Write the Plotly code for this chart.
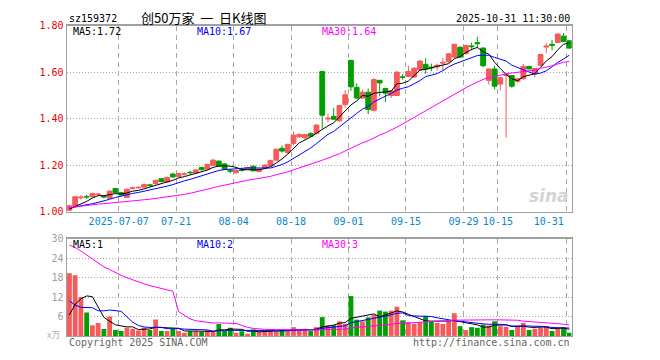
import plotly.graph_objects as go
import pandas as pd

W, H = 660, 360

# ---------------- data ----------------
tick_idx = [9, 19, 29, 39, 49, 59, 69, 75, 87]
tick_labels = ["2025-07-07", "07-21", "08-04", "08-18", "09-01", "09-15", "09-29", "10-15", "10-31"]

open_ = [1.007, 1.023, 1.060, 1.066, 1.065, 1.074, 1.067, 1.058, 1.100, 1.082,
         1.062, 1.101, 1.103, 1.106, 1.116, 1.121, 1.142, 1.128, 1.162, 1.151,
         1.161, 1.170, 1.167, 1.190, 1.183, 1.200, 1.218, 1.206, 1.178, 1.168,
         1.181, 1.183, 1.196, 1.173, 1.187, 1.197, 1.222, 1.273, 1.255, 1.294,
         1.322, 1.318, 1.336, 1.336, 1.603, 1.399, 1.410, 1.391, 1.461, 1.651,
         1.535, 1.489, 1.514, 1.436, 1.565, 1.530, 1.500, 1.500, 1.580, 1.582,
         1.579, 1.610, 1.634, 1.622, 1.623, 1.639, 1.645, 1.665, 1.707, 1.680,
         1.713, 1.727, 1.704, 1.565, 1.614, 1.549, 1.586, 1.586, 1.561, 1.572,
         1.625, 1.593, 1.630, 1.708, 1.720, 1.728, 1.755, 1.735]
high = [1.030, 1.068, 1.072, 1.073, 1.082, 1.081, 1.072, 1.092, 1.103, 1.086,
        1.100, 1.108, 1.109, 1.122, 1.120, 1.138, 1.146, 1.151, 1.168, 1.167,
        1.170, 1.177, 1.183, 1.193, 1.206, 1.228, 1.220, 1.208, 1.184, 1.182,
        1.188, 1.193, 1.199, 1.186, 1.203, 1.223, 1.270, 1.285, 1.292, 1.345,
        1.338, 1.334, 1.343, 1.375, 1.605, 1.422, 1.447, 1.460, 1.523, 1.653,
        1.552, 1.524, 1.530, 1.575, 1.567, 1.533, 1.524, 1.605, 1.592, 1.628,
        1.622, 1.652, 1.660, 1.637, 1.637, 1.662, 1.682, 1.722, 1.712, 1.718,
        1.727, 1.752, 1.706, 1.616, 1.628, 1.580, 1.593, 1.588, 1.575, 1.635,
        1.628, 1.619, 1.678, 1.725, 1.739, 1.767, 1.768, 1.738]
low = [1.003, 1.020, 1.052, 1.055, 1.062, 1.068, 1.058, 1.055, 1.080, 1.070,
       1.060, 1.096, 1.099, 1.104, 1.108, 1.118, 1.126, 1.125, 1.146, 1.148,
       1.155, 1.160, 1.165, 1.178, 1.180, 1.198, 1.194, 1.180, 1.166, 1.165,
       1.172, 1.180, 1.174, 1.170, 1.184, 1.195, 1.220, 1.255, 1.250, 1.285,
       1.318, 1.310, 1.322, 1.333, 1.357, 1.385, 1.394, 1.388, 1.447, 1.520,
       1.484, 1.485, 1.420, 1.432, 1.496, 1.472, 1.489, 1.498, 1.568, 1.578,
       1.575, 1.606, 1.593, 1.604, 1.607, 1.607, 1.640, 1.662, 1.662, 1.676,
       1.694, 1.705, 1.621, 1.547, 1.526, 1.523, 1.319, 1.533, 1.555, 1.568,
       1.612, 1.579, 1.627, 1.683, 1.694, 1.725, 1.730, 1.700]
close = [1.026, 1.065, 1.063, 1.064, 1.079, 1.076, 1.064, 1.089, 1.083, 1.072,
         1.097, 1.103, 1.105, 1.117, 1.113, 1.135, 1.130, 1.148, 1.150, 1.165,
         1.163, 1.168, 1.180, 1.181, 1.204, 1.222, 1.197, 1.183, 1.175, 1.178,
         1.178, 1.190, 1.176, 1.183, 1.201, 1.221, 1.269, 1.261, 1.290, 1.329,
         1.332, 1.332, 1.325, 1.373, 1.415, 1.402, 1.398, 1.457, 1.503, 1.537,
         1.489, 1.514, 1.440, 1.568, 1.554, 1.510, 1.520, 1.600, 1.578, 1.603,
         1.617, 1.648, 1.614, 1.619, 1.630, 1.642, 1.679, 1.720, 1.665, 1.715,
         1.710, 1.723, 1.628, 1.614, 1.540, 1.576, 1.590, 1.540, 1.572, 1.625,
         1.614, 1.616, 1.676, 1.712, 1.716, 1.764, 1.732, 1.704]
volume = [19.3, 18.7, 12.0, 7.2, 3.3, 4.0, 2.1, 6.0, 1.8, 1.5,
          2.5, 2.2, 1.7, 2.5, 1.8, 5.1, 1.5, 1.5, 2.2, 1.5,
          1.0, 1.4, 1.4, 1.2, 1.7, 1.2, 3.7, 1.5, 2.5, 1.0,
          1.4, 0.7, 2.0, 1.2, 1.4, 2.0, 1.4, 2.0, 1.7, 2.7,
          1.7, 2.0, 1.5, 2.7, 5.8, 3.3, 3.3, 4.5, 3.7, 12.3,
          5.0, 4.5, 5.7, 6.5, 7.8, 7.5, 7.8, 9.0, 4.8, 4.2,
          3.7, 4.2, 6.2, 4.5, 4.0, 3.7, 4.5, 7.0, 3.0, 1.8,
          2.7, 2.5, 3.5, 3.2, 4.5, 3.0, 2.8, 1.8, 3.2, 4.0,
          1.8, 2.2, 2.8, 2.8, 1.5, 2.3, 2.7, 1.0]

# sessions before the visible window (estimated from the moving-average lines)
prior_close = [1.030, 1.025, 1.024, 1.022, 1.020, 1.019, 1.018, 1.012, 1.010, 1.006, 1.006]
prior_volume = [190.0, 38.0, 31.7, 19.0, 8.2, 3.3, 13.3, 2.5, 3.5, 2.7, 4.5]

price_ticks = [1.00, 1.20, 1.40, 1.60, 1.80]
vol_ticks = [6, 12, 18, 24, 30]

ma_main_labels = ["MA5:1.72", "MA10:1.67", "MA30:1.64"]
ma_vol_labels = ["MA5:1", "MA10:2", "MA30:3"]
ma_windows = [5, 10, 30]
# ---------------------------------------------------------------

RED = "#f75a5a"
GREEN = "#009f00"
MA_COLORS = ["#000000", "#0000ff", "#ff00ff"]
MONO = "DejaVu Sans Mono, Liberation Mono, monospace"

n = len(close)
x = list(range(n))
k = len(prior_close)
all_close = pd.Series(prior_close + close)
all_vol = pd.Series(prior_volume + volume)


def ma(s, w):
    return s.rolling(w, min_periods=1).mean().iloc[k:].tolist()


def px_x(p):
    return p / W


def px_y(p):
    return 1 - p / H


fig = go.Figure()

fig.add_trace(go.Candlestick(
    x=x, open=open_, high=high, low=low, close=close,
    increasing=dict(line=dict(color=RED, width=1), fillcolor=RED),
    decreasing=dict(line=dict(color=GREEN, width=1), fillcolor=GREEN),
    whiskerwidth=0, xaxis="x", yaxis="y", showlegend=False, hoverinfo="skip"))

for w, c in zip(ma_windows, MA_COLORS):
    fig.add_trace(go.Scatter(x=x, y=ma(all_close, w), mode="lines",
                             line=dict(color=c, width=1), xaxis="x", yaxis="y",
                             showlegend=False, hoverinfo="skip"))

bar_colors = [RED if c >= o else GREEN for o, c in zip(open_, close)]
fig.add_trace(go.Bar(x=x, y=volume, marker=dict(color=bar_colors, line=dict(width=0)),
                     xaxis="x2", yaxis="y2", showlegend=False, hoverinfo="skip"))

for w, c in zip(ma_windows, MA_COLORS):
    fig.add_trace(go.Scatter(x=x, y=ma(all_vol, w), mode="lines",
                             line=dict(color=c, width=1), xaxis="x2", yaxis="y2",
                             showlegend=False, hoverinfo="skip"))

xdom = [70 / W, 597 / W]
xrange_ = [-0.4167, n - 1 + 0.4167]
tickpos = [t - 0.42 for t in tick_idx]
ticktext = list(tick_labels)
ticktext[-1] = ticktext[-1] + "\u00a0" * 6

common_x = dict(domain=xdom, range=xrange_, tickmode="array", tickvals=tickpos,
                showgrid=True, gridcolor="#a8a8a8", griddash="5px,4px", gridwidth=1,
                showline=True, mirror=True, linecolor="#a0a0a0", linewidth=1.5,
                zeroline=False, ticks="", fixedrange=True)

common_y = dict(tickmode="array", showgrid=True, gridcolor="#a8a8a8", griddash="1px,2px",
                showline=True, mirror=True, linecolor="#a0a0a0", linewidth=1.5,
                zeroline=False, ticks="", fixedrange=True)

fig.update_layout(
    width=W, height=H,
    margin=dict(l=0, r=0, t=0, b=0),
    paper_bgcolor="white", plot_bgcolor="white",
    bargap=1 / 6,
    boxgap=0.1, boxgroupgap=0.08,
    xaxis=dict(**common_x, anchor="y", ticktext=ticktext,
               tickfont=dict(family=MONO, size=10, color="#0a86cc"),
               rangeslider=dict(visible=False)),
    xaxis2=dict(**common_x, anchor="y2", ticktext=ticktext, showticklabels=False),
    yaxis=dict(**common_y, domain=[1 - 212.3 / H, 1 - 20.3 / H], range=[1.0, 1.8],
               tickvals=price_ticks, ticktext=["%.2f" % v for v in price_ticks],
               tickfont=dict(family=MONO, size=10, color="#ee0000")),
    yaxis2=dict(**common_y, domain=[1 - 340.3 / H, 1 - 240 / H], range=[0, 30],
                tickvals=vol_ticks, ticktext=[str(v) for v in vol_ticks],
                tickfont=dict(family=MONO, size=10, color="#a0a0a0")),
)

ann = []


def text(t, xp, yp, anchor="left", color="#000", size=10, family=MONO):
    ann.append(dict(text=t, x=px_x(xp), y=px_y(yp), xref="paper", yref="paper",
                    xanchor=anchor, yanchor="middle", showarrow=False,
                    font=dict(family=family, size=size, color=color)))


text("sz159372", 70, 13)
text("创50万家\u00a0\u00a0一\u00a0\u00a0日K线图", 213, 12, anchor="center", size=13,
     family="Noto Sans CJK SC, sans-serif")
text("2025-10-31 11:30:00", 597, 13, anchor="right")
for lab, xp, c in zip(ma_main_labels, [74, 204, 334], MA_COLORS):
    text(lab, xp, 26, color=c)
for lab, xp, c in zip(ma_vol_labels, [74, 204, 334], MA_COLORS):
    text(lab, xp, 246, color=c)
text("Copyright 2025 SINA.COM", 70, 347, color="#666666")
text("http://finance.sina.com.cn", 597, 347, anchor="right", color="#666666")
text("x万", 56, 339, anchor="center", color="#b0b0b0", size=9,
     family="Noto Sans CJK SC, sans-serif")
ann.append(dict(text="<i><b>sina</b></i>", x=px_x(596), y=px_y(196), xref="paper", yref="paper",
                xanchor="right", yanchor="middle", showarrow=False,
                font=dict(family="DejaVu Sans, sans-serif", size=17, color="#d4d4d4")))

fig.update_layout(annotations=ann)

fig.write_html("out.html", config={"displayModeBar": False, "staticPlot": True},
               post_script="document.body.style.margin='0px';document.body.style.padding='0px';")
